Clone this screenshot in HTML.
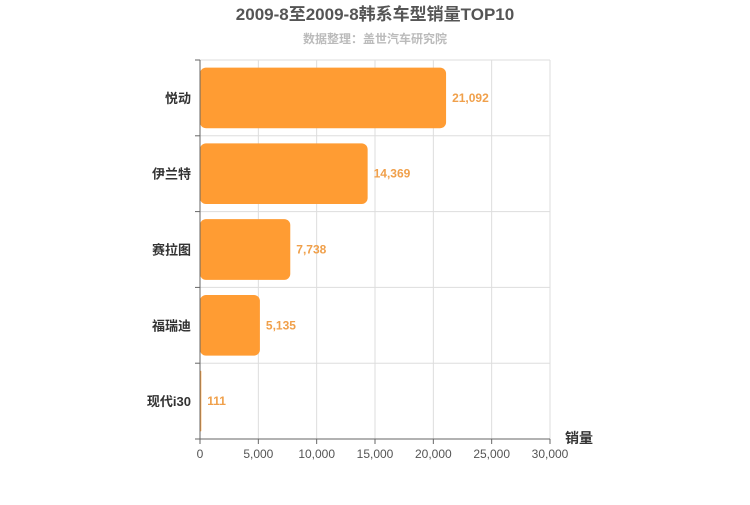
<!DOCTYPE html>
<html><head><meta charset="utf-8"><style>
body{margin:0;background:#fff;width:750px;height:500px;overflow:hidden}
svg text{font-family:"Liberation Sans","Noto Sans CJK SC",sans-serif}
</style></head><body>
<svg id="c" width="750" height="500">
<text x="375" y="20" text-anchor="middle" font-size="17" font-weight="bold" fill="#555">2009-8至2009-8韩系车型销量TOP10</text>
<text x="375" y="43" text-anchor="middle" font-size="12" font-weight="bold" fill="#bbb">数据整理：盖世汽车研究院</text>
<text x="565" y="443" font-size="14" font-weight="bold" fill="#333">销量</text>
<g id="grid"></g><g id="bars"></g><g id="axes"></g>
</svg>
<script>
const categories=["悦动","伊兰特","赛拉图","福瑞迪","现代i30"];
const values=[21092,14369,7738,5135,111];
const xTicks=[0,5000,10000,15000,20000,25000,30000];
const NS="http://www.w3.org/2000/svg";
const L=200,R=550,T=60,B=439,xMax=30000;
const x=v=>L+v/xMax*(R-L);
const band=(B-T)/categories.length;
const y=i=>T+i*band;
function mk(tag,attrs,parent,txt){const e=document.createElementNS(NS,tag);for(const k in attrs)e.setAttribute(k,attrs[k]);if(txt!==undefined)e.textContent=txt;document.getElementById(parent).appendChild(e);return e;}
xTicks.forEach(t=>{
  const g=mk('line',{x1:x(t),x2:x(t),y1:T,y2:B,stroke:'#ddd'},'grid');
  
  
  const tk=mk('line',{x1:x(t),x2:x(t),y1:B,y2:B+5,stroke:'#666'},'axes');
  
  
  const lb=mk('text',{x:x(t),y:B+19,'text-anchor':'middle','font-size':12,fill:'#555'},'axes',t.toLocaleString('en-US'));
  
  
});
for(let i=0;i<=categories.length;i++){
  const g=mk('line',{x1:L,x2:R,y1:y(i),y2:y(i),stroke:'#ddd'},'grid');
  
  
  const tk=mk('line',{x1:L-5,x2:L,y1:y(i),y2:y(i),stroke:'#666'},'axes');
  
  
}
categories.forEach((c,i)=>{
  const by=y(i)+band*0.1,bh=band*0.8,w=Math.max(x(values[i])-L,1);
  const r=mk('rect',{x:L,y:by,width:w,height:bh,rx:Math.min(6,w/2),fill:'#ff9c33'},'bars');
  
  
  const v=mk('text',{x:x(values[i])+6,y:y(i)+band/2+4,'font-size':12,'font-weight':'bold',fill:'#f0a04b'},'bars',values[i].toLocaleString('en-US'));
  
  
  const lb=mk('text',{x:L-9,y:y(i)+band/2+5,'text-anchor':'end','font-size':13,'font-weight':'bold',fill:'#333'},'axes',c);
  
  
});
const ya=mk('line',{x1:L,x2:L,y1:T,y2:B,stroke:'#666'},'axes');


const xa=mk('line',{x1:L,x2:R,y1:B,y2:B,stroke:'#666'},'axes');


</script>
</body></html>
